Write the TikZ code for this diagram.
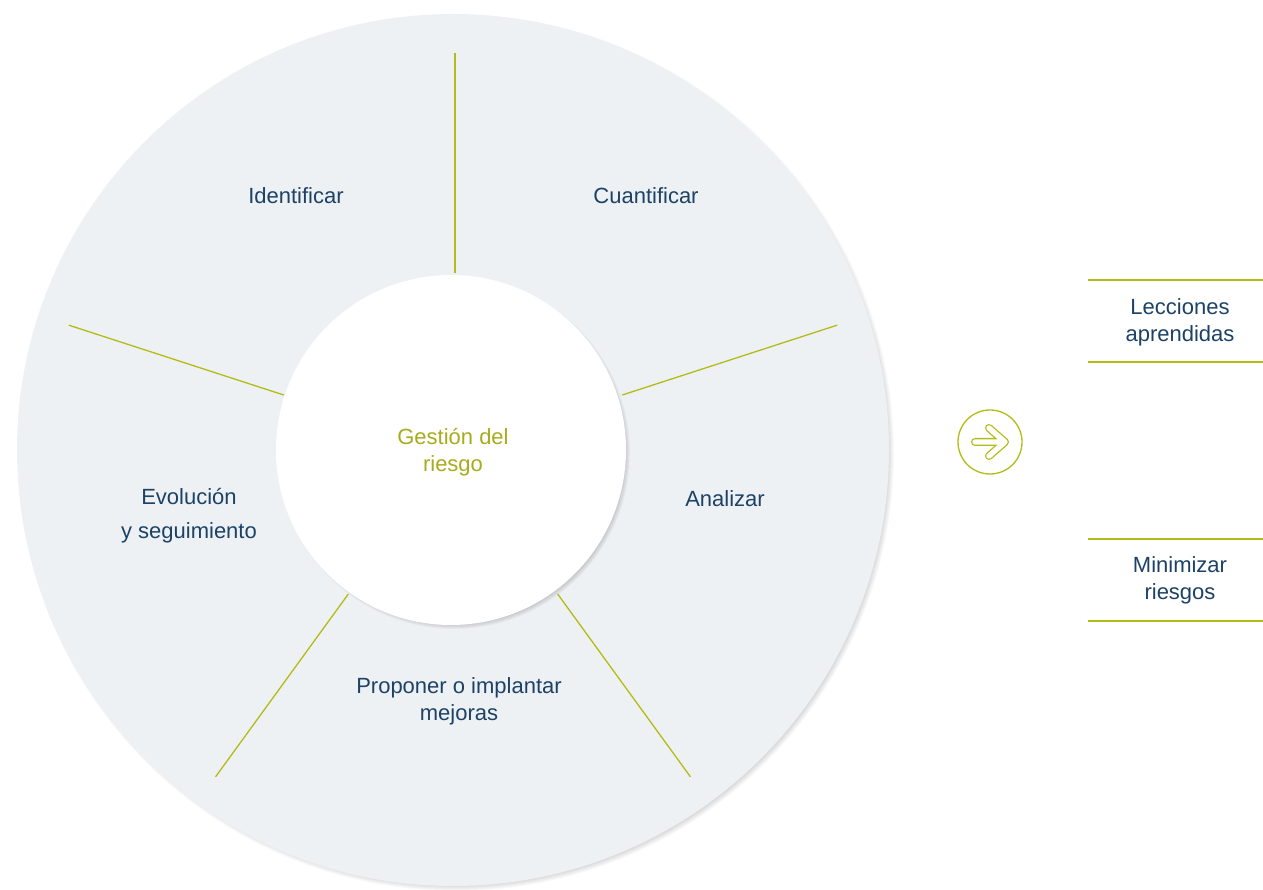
\documentclass[tikz,border=0pt]{standalone}
\usepackage{fontspec}
\setmainfont{Liberation Sans}
\usetikzlibrary{calc}
\definecolor{olive}{RGB}{181,187,22}
\definecolor{oliveText}{RGB}{168,172,28}
\definecolor{navy}{RGB}{28,66,102}
\definecolor{ringgray}{RGB}{238,241,244}
\tikzset{
  label/.style={text=navy, font=\fontsize{22}{27}\selectfont, align=center, inner sep=0pt},
  divider/.style={draw=olive, line width=1.3pt},
  rule/.style={draw=olive, line width=1.4pt},
}
\begin{document}
\begin{tikzpicture}[x=1pt,y=1pt]
\useasboundingbox (0,0) rectangle (1263,889);
\fill[white] (0,0) rectangle (1263,889);
% outer ring shadow
\foreach \k in {1,...,10} {
  \fill[black, opacity=0.025] (456,436) circle ({428+\k});
}
\fill[ringgray] (453,439) circle (436);
\coordinate (c) at (453,439);
% inner circle shadow
\foreach \k in {1,...,8} {
  \fill[black, opacity=0.03] (454,436) circle ({168+\k});
}
\node[circle, fill=white, minimum size=350pt, inner sep=0pt] (core) at (451,439) {};
% dividers
\coordinate (t1) at (455,616); \coordinate (t2) at (455,836);
\draw[divider] (t1) -- (t2);
\draw[divider] ($(c)+(18:178)$) -- ($(c)+(18:404)$);
\draw[divider] ($(c)+(162:178)$) -- ($(c)+(162:404)$);
\draw[divider] ($(c)+(-54:178)$) -- ($(c)+(-54:404)$);
\draw[divider] ($(c)+(-126:178)$) -- ($(c)+(-126:404)$);
% labels
\node[label] (ident) at (296,693) {Identificar};
\node[label] (cuant) at (646,693) {Cuantificar};
\node[label] (anal) at (725,390) {Analizar};
\node[label] (evol) at (189,373) {Evolución\\[7pt]y seguimiento};
\node[label] (prop) at (459,188) {Proponer o implantar\\mejoras};
\node[label, text=oliveText] (gest) at (453,437) {Gestión del\\riesgo};
% arrow icon
\node[circle, draw=olive, line width=1.3pt, minimum size=64pt, inner sep=0pt] (icon) at (990,447) {};
\coordinate (a0) at (975,447);
\coordinate (a1) at (1005,447);
\coordinate (a2) at (989,461);
\coordinate (a3) at (989,433);
\draw[olive, line width=8pt, line cap=round, line join=round] (a0) -- (a1) (a2) -- (a1) -- (a3);
\draw[white, line width=5.4pt, line cap=round, line join=round] (a0) -- (a1) (a2) -- (a1) -- (a3);
% right side
\coordinate (r1a) at (1088,609); \coordinate (r1b) at (1263,609);
\coordinate (r2a) at (1088,527); \coordinate (r2b) at (1263,527);
\coordinate (r3a) at (1088,350); \coordinate (r3b) at (1263,350);
\coordinate (r4a) at (1088,268); \coordinate (r4b) at (1263,268);
\draw[rule] (r1a) -- (r1b);
\draw[rule] (r2a) -- (r2b);
\draw[rule] (r3a) -- (r3b);
\draw[rule] (r4a) -- (r4b);
\node[label] (lecc) at (1180,567) {Lecciones\\aprendidas};
\node[label] (mini) at (1180,309) {Minimizar\\riesgos};
\end{tikzpicture}
\end{document}
